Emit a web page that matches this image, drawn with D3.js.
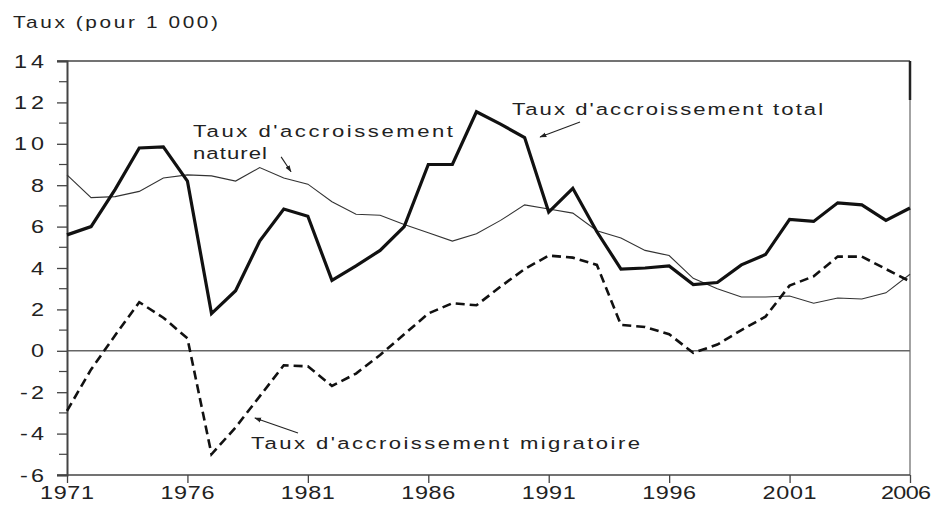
<!DOCTYPE html>
<html><head><meta charset="utf-8">
<script src="https://cdn.jsdelivr.net/npm/d3@7"></script>
<style>body{margin:0;background:#fff} svg{display:block;font-family:"Liberation Sans",Arial,sans-serif}</style>
</head><body><svg id="c" width="932" height="507"></svg>
<script>
const years = [1971,1972,1973,1974,1975,1976,1977,1978,1979,1980,1981,1982,1983,1984,1985,1986,1987,1988,1989,1990,1991,1992,1993,1994,1995,1996,1997,1998,1999,2000,2001,2002,2003,2004,2005,2006];
const total = [5.6,6.0,7.8,9.8,9.85,8.2,1.8,2.9,5.3,6.85,6.5,3.4,4.1,4.85,6.0,9.0,9.0,11.55,10.95,10.3,6.7,7.85,5.75,3.95,4.0,4.1,3.2,3.3,4.15,4.65,6.35,6.25,7.15,7.05,6.3,6.9];
const naturel = [8.5,7.4,7.45,7.7,8.35,8.5,8.45,8.2,8.85,8.35,8.05,7.2,6.6,6.55,6.1,5.7,5.3,5.65,6.3,7.05,6.85,6.65,5.8,5.45,4.85,4.6,3.5,3.0,2.6,2.6,2.65,2.3,2.55,2.5,2.8,3.7];
const migratoire = [-2.9,-0.9,0.75,2.35,1.6,0.6,-5.0,-3.7,-2.2,-0.7,-0.75,-1.7,-1.1,-0.2,0.8,1.8,2.3,2.2,3.1,3.95,4.6,4.5,4.15,1.25,1.15,0.8,-0.1,0.3,1.0,1.65,3.15,3.6,4.55,4.55,3.95,3.35];
const xTicks = [1971,1976,1981,1986,1991,1996,2001,2006];
const yTicks = [-6,-4,-2,0,2,4,6,8,10,12,14];
const yMinor = [-5,-3,-1,1,3,5,7,9,11,13];
const yTitle = "Taux (pour 1 000)";

const svg = d3.select("#c");
const L = 67, R = 910, T = 61, B = 475;
const x = d3.scaleLinear().domain([1971,2006]).range([L,R]);
const y = d3.scaleLinear().domain([-6,14]).range([B,T]);
const axisCol = "#444", txtCol = "#222";
const SX = 1.3;

function wide(g, px, py, str, size, anchor, w) {
  const t = g.append("text").attr("transform",`translate(${px},${py}) scale(${SX},1)`)
    .attr("font-size",size).attr("fill",txtCol).attr("text-anchor",anchor||"start").text(str);
  if (w) t.attr("textLength", w/SX).attr("lengthAdjust","spacing");
  return t;
}

// frame
svg.append("line").attr("x1",L-10).attr("x2",R).attr("y1",T).attr("y2",T).attr("stroke",axisCol).attr("stroke-width",1.5);
svg.append("line").attr("x1",R).attr("x2",R).attr("y1",T).attr("y2",B).attr("stroke","#666").attr("stroke-width",1.2);
svg.append("line").attr("x1",R).attr("x2",R).attr("y1",T).attr("y2",T+39).attr("stroke","#222").attr("stroke-width",2.5);
svg.append("line").attr("x1",L).attr("x2",R).attr("y1",y(0)).attr("y2",y(0)).attr("stroke","#666").attr("stroke-width",1.5);

// y axis
const gy = svg.append("g").attr("transform",`translate(${L},0)`)
  .call(d3.axisLeft(y).tickValues(yTicks).tickSize(10).tickFormat(""));
gy.select(".domain").attr("stroke",axisCol).attr("stroke-width",2);
gy.selectAll(".tick line").attr("stroke",axisCol).attr("stroke-width",1.3);
svg.append("g").selectAll("line").data(yMinor).join("line")
  .attr("x1",L-8).attr("x2",L).attr("y1",d=>y(d)).attr("y2",d=>y(d)).attr("stroke",axisCol).attr("stroke-width",1.2);
const gyl = svg.append("g");
yTicks.forEach(v => {
  const s = String(v);
  const w = v >= 10 ? 30 : (v < 0 ? 24 : null);
  wide(gyl, 44, y(v)+6.5, s, 18, "end", w);
});

// x axis
const gx = svg.append("g").attr("transform",`translate(0,${B})`)
  .call(d3.axisBottom(x).tickValues(xTicks).tickSize(8).tickFormat(""));
gx.select(".domain").remove();
gx.selectAll(".tick line").attr("stroke",axisCol).attr("stroke-width",1.3);
svg.append("line").attr("x1",L-10).attr("x2",R).attr("y1",B).attr("y2",B).attr("stroke",axisCol).attr("stroke-width",1.5);
const gxl = svg.append("g");
xTicks.forEach((v,i) => {
  if (i === xTicks.length-1) wide(gxl, 931, 499, String(v), 18, "end", 50);
  else wide(gxl, x(v), 499, String(v), 18, "middle", 54);
});

// title
wide(svg, 13, 28, yTitle, 16, "start", 205);

// lines
const line = arr => d3.line().x((d,i)=>x(years[i])).y(d=>y(d))(arr);
svg.append("path").attr("d",line(naturel)).attr("fill","none").attr("stroke","#333").attr("stroke-width",1.1);
svg.append("path").attr("d",line(migratoire)).attr("fill","none").attr("stroke","#111").attr("stroke-width",2.6).attr("stroke-dasharray","9,5");
svg.append("path").attr("d",line(total)).attr("fill","none").attr("stroke","#111").attr("stroke-width",3.2);

// annotations (data units)
const labels = [
  {t:"Taux d'accroissement total", yr:1989.48, v:11.39, w:311},
  {t:"Taux d'accroissement", yr:1976.23, v:10.33, w:260},
  {t:"naturel", yr:1976.23, v:9.27, w:74},
  {t:"Taux d'accroissement migratoire", yr:1978.64, v:-4.74, w:389}
];
const gl = svg.append("g");
labels.forEach(d => wide(gl, x(d.yr), y(d.v), d.t, 17, "start", d.w));

svg.append("defs").append("marker").attr("id","ah").attr("viewBox","0 0 10 10").attr("refX",9).attr("refY",5)
  .attr("markerWidth",7).attr("markerHeight",7).attr("orient","auto").attr("markerUnits","userSpaceOnUse")
  .append("path").attr("d","M0,1.5L10,5L0,8.5Z").attr("fill","#222");
const arrows = [
  {y1:1992.30,v1:11.05,y2:1990.64,v2:10.33},
  {y1:1979.89,v1:9.37,y2:1980.30,v2:8.65},
  {y1:1980.59,v1:-3.97,y2:1978.80,v2:-3.25}
];
svg.append("g").selectAll("line").data(arrows).join("line")
  .attr("x1",d=>x(d.y1)).attr("y1",d=>y(d.v1)).attr("x2",d=>x(d.y2)).attr("y2",d=>y(d.v2))
  .attr("stroke","#222").attr("stroke-width",1.1).attr("marker-end","url(#ah)");
</script></body></html>
